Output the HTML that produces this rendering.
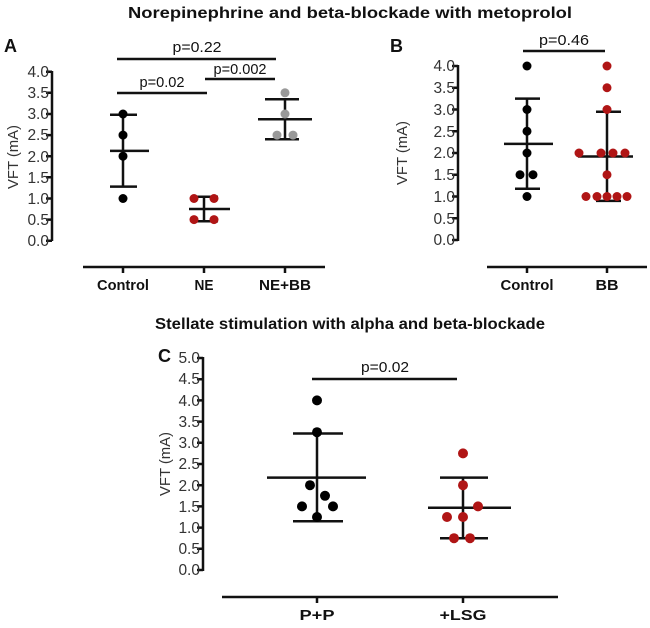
<!DOCTYPE html>
<html><head><meta charset="utf-8"><style>
html,body{margin:0;padding:0;background:#fff;}
svg{display:block;font-family:"Liberation Sans",Arial,sans-serif;}
.t{font-size:15.5px;fill:#333;text-anchor:end;}
.x{font-size:14.5px;font-weight:bold;fill:#111;text-anchor:middle;}
.p{font-size:15px;fill:#111;text-anchor:middle;}
.l{stroke:#111;stroke-width:2.5;fill:none;}
.k{fill:#000}.r{fill:#b01515}.g{fill:#999}
</style></head><body>
<svg width="650" height="628" viewBox="0 0 650 628">
<text x="350" y="18" font-size="16" font-weight="bold" text-anchor="middle" textLength="444" lengthAdjust="spacingAndGlyphs" fill="#111">Norepinephrine and beta-blockade with metoprolol</text>
<text x="350" y="329" font-size="16" font-weight="bold" text-anchor="middle" textLength="390" lengthAdjust="spacingAndGlyphs" fill="#111">Stellate stimulation with alpha and beta-blockade</text>

<!-- Panel A -->
<text x="4" y="52" font-size="18" font-weight="bold" fill="#111">A</text>
<g class="l"><path d="M52 71V241M46 71.7H52M46 92.8H52M46 114H52M46 135.1H52M46 156.2H52M46 177.3H52M46 198.5H52M46 219.6H52M46 240.7H52"/>
<path d="M83 267H325M123 267V273M204 267V273M285 267V273"/></g>
<g class="t"><text x="49" y="77">4.0</text><text x="49" y="98">3.5</text><text x="49" y="119">3.0</text><text x="49" y="140">2.5</text><text x="49" y="162">2.0</text><text x="49" y="183">1.5</text><text x="49" y="204">1.0</text><text x="49" y="225">0.5</text><text x="49" y="246">0.0</text></g>
<text transform="translate(18,157) rotate(-90)" font-size="15" fill="#333" text-anchor="middle" textLength="64" lengthAdjust="spacingAndGlyphs">VFT (mA)</text>
<g class="x"><text x="123" y="290" textLength="52" lengthAdjust="spacingAndGlyphs">Control</text><text x="204" y="290" textLength="19" lengthAdjust="spacingAndGlyphs">NE</text><text x="285" y="290" textLength="52" lengthAdjust="spacingAndGlyphs">NE+BB</text></g>
<g class="l"><path d="M117 59H276M117 93H207M205 79H275"/></g>
<g class="p"><text x="197" y="52" textLength="49" lengthAdjust="spacingAndGlyphs">p=0.22</text><text x="162" y="87" textLength="45" lengthAdjust="spacingAndGlyphs">p=0.02</text><text x="240" y="74" textLength="53" lengthAdjust="spacingAndGlyphs">p=0.002</text></g>
<g class="l"><path d="M110 150.9H149M110 114.8H137M110 186.6H137M123 114.8V186.6"/>
<path d="M189 209H230M193 196.8H218M193 221.3H218M204 196.8V221.3"/>
<path d="M258 119.2H312M265 99.2H299M265 139.3H299M285 99.2V139.3"/></g>
<g class="k"><circle cx="123" cy="114" r="4.5"/><circle cx="123" cy="135.1" r="4.5"/><circle cx="123" cy="156.2" r="4.5"/><circle cx="123" cy="198.5" r="4.5"/></g>
<g class="r"><circle cx="194" cy="198.5" r="4.5"/><circle cx="214" cy="198.5" r="4.5"/><circle cx="194" cy="219.6" r="4.5"/><circle cx="214" cy="219.6" r="4.5"/></g>
<g class="g"><circle cx="285" cy="92.8" r="4.5"/><circle cx="285" cy="114" r="4.5"/><circle cx="277" cy="135.1" r="4.5"/><circle cx="293" cy="135.1" r="4.5"/></g>

<!-- Panel B -->
<text x="390" y="52" font-size="18" font-weight="bold" fill="#111">B</text>
<g class="l"><path d="M458 65V241M452 66H458M452 87.75H458M452 109.5H458M452 131.25H458M452 153H458M452 174.75H458M452 196.5H458M452 218.25H458M452 240H458"/>
<path d="M487 267H647M527 267V273M607 267V273"/></g>
<g class="t"><text x="455" y="71">4.0</text><text x="455" y="93">3.5</text><text x="455" y="115">3.0</text><text x="455" y="137">2.5</text><text x="455" y="158">2.0</text><text x="455" y="180">1.5</text><text x="455" y="202">1.0</text><text x="455" y="224">0.5</text><text x="455" y="245">0.0</text></g>
<text transform="translate(407,153) rotate(-90)" font-size="15" fill="#333" text-anchor="middle" textLength="64" lengthAdjust="spacingAndGlyphs">VFT (mA)</text>
<g class="x"><text x="527" y="290" textLength="53" lengthAdjust="spacingAndGlyphs">Control</text><text x="607" y="290" textLength="23" lengthAdjust="spacingAndGlyphs">BB</text></g>
<path class="l" d="M523 51H605"/>
<text class="p" x="564" y="45" textLength="50" lengthAdjust="spacingAndGlyphs">p=0.46</text>
<g class="l"><path d="M504 143.9H553M515 98.6H540M515 188.7H540M527 98.6V188.7"/>
<path d="M578 156.5H633M596 111.7H621M596 200.9H621M607 111.7V200.9"/></g>
<g class="k"><circle cx="527" cy="66" r="4.5"/><circle cx="527" cy="109.5" r="4.5"/><circle cx="527" cy="131.25" r="4.5"/><circle cx="527" cy="153" r="4.5"/><circle cx="520" cy="174.75" r="4.5"/><circle cx="533" cy="174.75" r="4.5"/><circle cx="527" cy="196.5" r="4.5"/></g>
<g class="r"><circle cx="607" cy="66" r="4.5"/><circle cx="607" cy="87.75" r="4.5"/><circle cx="607" cy="109.5" r="4.5"/><circle cx="579" cy="153" r="4.5"/><circle cx="601" cy="153" r="4.5"/><circle cx="613" cy="153" r="4.5"/><circle cx="625" cy="153" r="4.5"/><circle cx="607" cy="174.75" r="4.5"/><circle cx="586" cy="196.5" r="4.5"/><circle cx="597" cy="196.5" r="4.5"/><circle cx="607" cy="196.5" r="4.5"/><circle cx="617" cy="196.5" r="4.5"/><circle cx="627" cy="196.5" r="4.5"/></g>

<!-- Panel C -->
<text x="158" y="362" font-size="18" font-weight="bold" fill="#111">C</text>
<g class="l"><path d="M203 357V571M197 358H203M197 379.2H203M197 400.4H203M197 421.6H203M197 442.8H203M197 464H203M197 485.2H203M197 506.4H203M197 527.6H203M197 548.8H203M197 570H203"/>
<path d="M222 597H558M317 597V603M463 597V603"/></g>
<g class="t"><text x="200" y="363">5.0</text><text x="200" y="384">4.5</text><text x="200" y="406">4.0</text><text x="200" y="427">3.5</text><text x="200" y="448">3.0</text><text x="200" y="469">2.5</text><text x="200" y="491">2.0</text><text x="200" y="512">1.5</text><text x="200" y="533">1.0</text><text x="200" y="554">0.5</text><text x="200" y="575">0.0</text></g>
<text transform="translate(170,464) rotate(-90)" font-size="15" fill="#333" text-anchor="middle" textLength="64" lengthAdjust="spacingAndGlyphs">VFT (mA)</text>
<g class="x"><text x="317" y="620" textLength="35" lengthAdjust="spacingAndGlyphs">P+P</text><text x="463" y="620" textLength="47" lengthAdjust="spacingAndGlyphs">+LSG</text></g>
<path class="l" d="M312 379H457"/>
<text class="p" x="385" y="372" textLength="48" lengthAdjust="spacingAndGlyphs">p=0.02</text>
<g class="l"><path d="M267 477.6H366M293 433.5H343M293 521.2H343M317 433.5V521.2"/>
<path d="M428 507.7H511M440 477.6H488M440 538.2H488M463 477.6V538.2"/></g>
<g class="k"><circle cx="317" cy="400.4" r="5"/><circle cx="317" cy="432.2" r="5"/><circle cx="310" cy="485.2" r="5"/><circle cx="325" cy="495.8" r="5"/><circle cx="302" cy="506.4" r="5"/><circle cx="333" cy="506.4" r="5"/><circle cx="317" cy="517" r="5"/></g>
<g class="r"><circle cx="463" cy="453.4" r="5"/><circle cx="463" cy="485.2" r="5"/><circle cx="478" cy="506.4" r="5"/><circle cx="447" cy="517" r="5"/><circle cx="463" cy="517" r="5"/><circle cx="454" cy="538.2" r="5"/><circle cx="470" cy="538.2" r="5"/></g>
</svg>
</body></html>
